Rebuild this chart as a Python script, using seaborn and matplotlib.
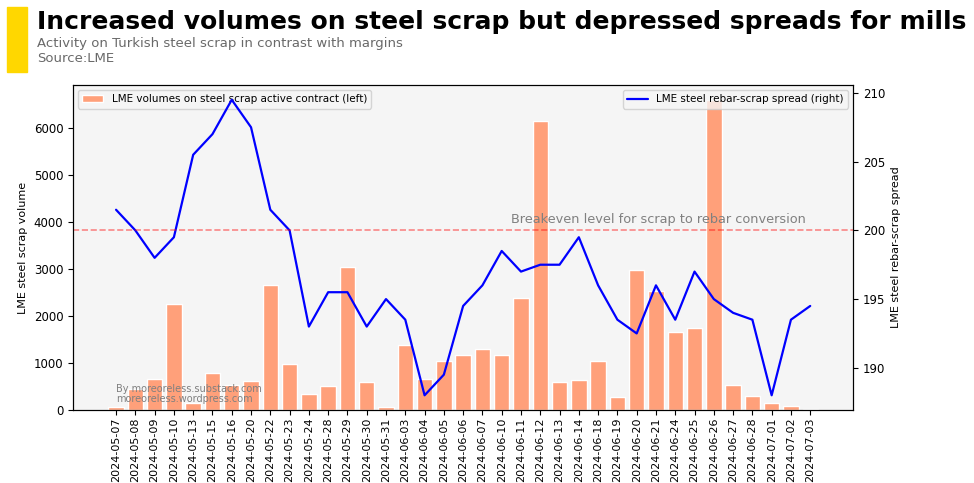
import numpy as np
import pandas as pd
import matplotlib
matplotlib.use("Agg")
import matplotlib.pyplot as plt
from matplotlib.patches import Rectangle
import seaborn as sns

# dates of the trading sessions
dates = ["2024-05-07", "2024-05-08", "2024-05-09", "2024-05-10", "2024-05-13",
         "2024-05-15", "2024-05-16", "2024-05-20", "2024-05-22", "2024-05-23",
         "2024-05-24", "2024-05-28", "2024-05-29", "2024-05-30", "2024-05-31",
         "2024-06-03", "2024-06-04", "2024-06-05", "2024-06-06", "2024-06-07",
         "2024-06-10", "2024-06-11", "2024-06-12", "2024-06-13", "2024-06-14",
         "2024-06-18", "2024-06-19", "2024-06-20", "2024-06-21", "2024-06-24",
         "2024-06-25", "2024-06-26", "2024-06-27", "2024-06-28", "2024-07-01",
         "2024-07-02", "2024-07-03"]

# volumes on active scrap contract (left axis)
volumes = [60, 450, 670, 2250, 150, 780, 540, 620, 2670, 970,
           350, 520, 3050, 600, 70, 1390, 670, 1050, 1180, 1300,
           1180, 2390, 6150, 600, 640, 1050, 280, 2980, 2540, 1660,
           1750, 6590, 540, 300, 150, 90, 20]

# rebar - scrap spread (right axis)
spread = [201.5, 200, 198, 199.5, 205.5, 207, 209.5, 207.5, 201.5, 200,
          193, 195.5, 195.5, 193, 195, 193.5, 188, 189.5, 194.5, 196,
          198.5, 197, 197.5, 197.5, 199.5, 196, 193.5, 192.5, 196, 193.5,
          197, 195, 194, 193.5, 188, 193.5, 194.5]

breakeven = 200

df = pd.DataFrame({"date": dates, "volume": volumes, "spread": spread})
df["pos"] = np.arange(len(df))

sns.set_style("ticks", {"axes.facecolor": "#f5f5f5", "axes.edgecolor": "black",
                        "text.color": "black", "axes.labelcolor": "black",
                        "xtick.color": "black", "ytick.color": "black"})

fig, ax = plt.subplots(figsize=(9.74, 4.83), dpi=100)
fig.subplots_adjust(left=0.075, right=0.876, top=0.824, bottom=0.151)

sns.barplot(data=df, x="date", y="volume", color="lightsalmon", saturation=1,
            width=0.8, ax=ax, label="LME volumes on steel scrap active contract (left)")
ax.set_xlim(-2.23, len(df) - 1 + 2.23)
ax.set_ylabel("LME steel scrap volume", fontsize=8)
ax.set_xlabel("")
ax.tick_params(axis="x", labelrotation=90, labelsize=8, pad=2)
ax.tick_params(axis="y", labelsize=8.5)
ax.legend(loc="upper left", fontsize=7.5)

ax2 = ax.twinx()
sns.lineplot(data=df, x="pos", y="spread", color="blue", lw=1.6, ax=ax2,
             label="LME steel rebar-scrap spread (right)")
ax2.axhline(breakeven, color="red", alpha=0.45, ls="--", lw=1.2)
ax2.text(20.5, breakeven + 0.8, "Breakeven level for scrap to rebar conversion",
         fontsize=9.3, color="gray", va="center")
ax2.set_ylabel("LME steel rebar-scrap spread", fontsize=8)
ax2.set_xlabel("")
ax2.tick_params(axis="y", labelsize=8.5)
ax2.legend(loc="upper right", fontsize=7.5)
ax2.set_xlim(-2.23, len(df) - 1 + 2.23)

ax.text(0.055, 0.05, "By moreoreless.substack.com\nmoreoreless.wordpress.com",
        transform=ax.transAxes, fontsize=7, color="gray", va="center", ha="left",
        linespacing=1.0)

# header
fig.patches.append(Rectangle((7 / 974, 1 - 72 / 483), 20 / 974, 65 / 483,
                             transform=fig.transFigure, color="gold", zorder=5))
fig.text(37 / 974, 1 - 22 / 483, "Increased volumes on steel scrap but depressed spreads for mills",
         fontsize=18, fontweight="bold", color="black", va="center", ha="left")
fig.text(37 / 974, 1 - 44 / 483, "Activity on Turkish steel scrap in contrast with margins",
         fontsize=9.5, color="dimgray", va="center", ha="left")
fig.text(37 / 974, 1 - 59 / 483, "Source:LME",
         fontsize=9.5, color="dimgray", va="center", ha="left")

fig.savefig("out.png", dpi=100)
